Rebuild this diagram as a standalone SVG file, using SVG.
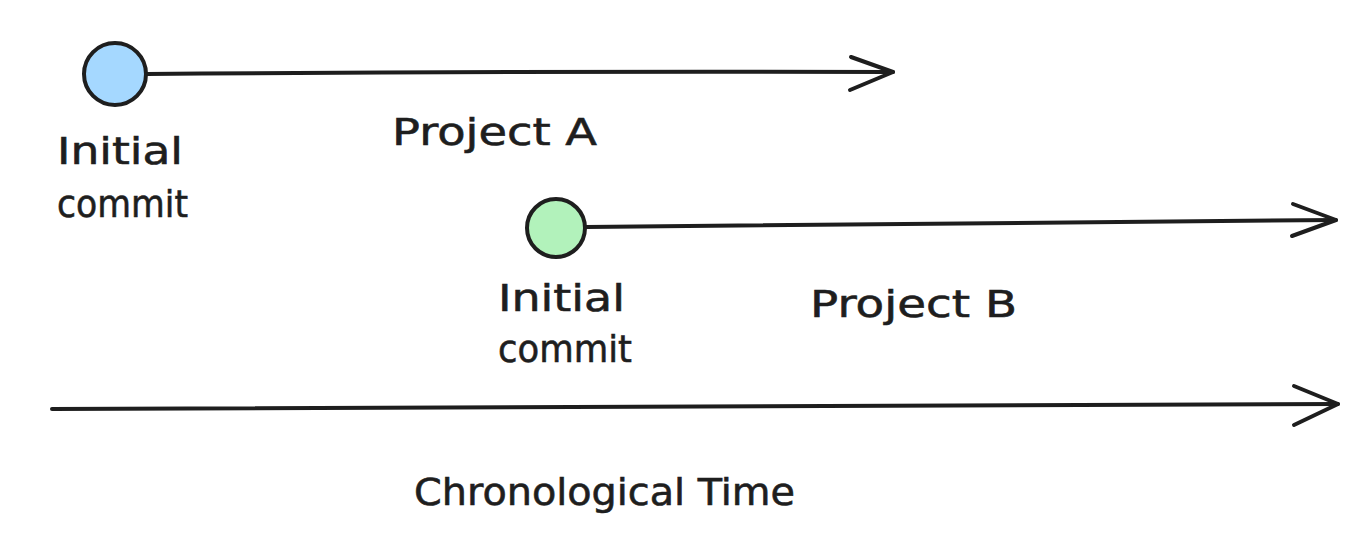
<svg xmlns="http://www.w3.org/2000/svg" width="1369" height="560" viewBox="0 0 1369 560">
<style>
.ln{fill:none;stroke:#1e1e1e;stroke-width:4;stroke-linecap:round;stroke-linejoin:round}
.nd{stroke:#1e1e1e;stroke-width:4}
.t{font-family:"DejaVu Sans","Liberation Sans",sans-serif;font-size:38px;fill:#1e1e1e;stroke:#1e1e1e;stroke-width:0.6}
</style>
<rect width="1369" height="560" fill="#ffffff"/>
<g id="connectors">
<path class="ln" d="M147 74 Q520 71 893 72"/>
<path class="ln" d="M851 57 L893 72 L850 90"/>
<path class="ln" d="M586 227 Q960 222 1336 220"/>
<path class="ln" d="M1293 204 L1336 220 L1292 236"/>
<path class="ln" d="M52 409 Q700 405 1338 404"/>
<path class="ln" d="M1294 386 L1338 404 L1294 425"/>
</g>
<g id="nodeA">
<circle class="nd" cx="115" cy="74" r="31" fill="#a5d8ff"/>
<text class="t" x="57" y="164" textLength="126" lengthAdjust="spacingAndGlyphs">Initial</text>
<text class="t" x="57" y="217" textLength="131" lengthAdjust="spacingAndGlyphs">commit</text>
</g>
<g id="labelA">
<text class="t" x="392" y="145" textLength="205" lengthAdjust="spacingAndGlyphs">Project A</text>
</g>
<g id="nodeB">
<circle class="nd" cx="556" cy="228" r="29" fill="#b2f2bb"/>
<text class="t" x="498" y="311" textLength="127" lengthAdjust="spacingAndGlyphs">Initial</text>
<text class="t" x="498" y="362" textLength="134" lengthAdjust="spacingAndGlyphs">commit</text>
</g>
<g id="labelB">
<text class="t" x="810" y="317" textLength="207" lengthAdjust="spacingAndGlyphs">Project B</text>
</g>
<g id="labelTime">
<text class="t" x="414" y="505" textLength="381" lengthAdjust="spacingAndGlyphs">Chronological Time</text>
</g>
</svg>
